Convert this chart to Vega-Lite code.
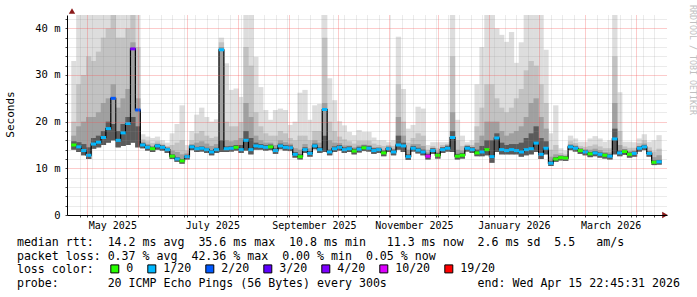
{
  "$schema": "https://vega.github.io/schema/vega-lite/v6.json",
  "width": 600,
  "height": 200,
  "autosize": "none",
  "padding": {"left": 67, "top": 15, "right": 30, "bottom": 82},
  "background": "white",
  "config": {"view": {"stroke": null}, "axis": {"labelOverlap": false, "labelFlush": false, "labelBound": false}},
  "title": {"text": "RRDTOOL / TOBI OETIKER", "orient": "right", "anchor": "start", "frame": "group", "offset": 2, "font": "DejaVu Sans Mono", "fontSize": 8.3, "fontWeight": "normal", "color": "#c0c0c0", "baseline": "alphabetic", "dx": -10},
  "datasets": {
    "smoke": [
      {"t":"2025-04-23T00:00","m":15.0,"lo":14.0,"h1":33,"h2":20,"h3":17,"h4":15.8,"c":"0"},
      {"t":"2025-04-26T00:00","m":14.6,"lo":13.5,"h1":43,"h2":28,"h3":19,"h4":15.6,"c":"1/20"},
      {"t":"2025-04-29T00:00","m":13.8,"lo":12.8,"h1":43,"h2":30,"h3":20,"h4":15.2,"c":"1/20"},
      {"t":"2025-05-02T00:00","m":12.8,"lo":12.0,"h1":43,"h2":34,"h3":21,"h4":14.5,"c":"1/20"},
      {"t":"2025-05-05T00:00","m":15.2,"lo":14.2,"h1":43,"h2":33,"h3":21,"h4":16.5,"c":"1/20"},
      {"t":"2025-05-08T00:00","m":15.6,"lo":14.5,"h1":43,"h2":35,"h3":22,"h4":17,"c":"1/20"},
      {"t":"2025-05-11T00:00","m":16.6,"lo":15.0,"h1":43,"h2":38,"h3":24,"h4":18,"c":"1/20"},
      {"t":"2025-05-14T00:00","m":18.5,"lo":15.5,"h1":43,"h2":40,"h3":25,"h4":20,"c":"1/20"},
      {"t":"2025-05-17T00:00","m":25.0,"lo":16.0,"h1":43,"h2":43,"h3":28,"h4":19.5,"c":"2/20"},
      {"t":"2025-05-20T00:00","m":16.0,"lo":14.5,"h1":43,"h2":38,"h3":23,"h4":18,"c":"1/20"},
      {"t":"2025-05-23T00:00","m":17.6,"lo":14.8,"h1":43,"h2":38,"h3":25,"h4":19.5,"c":"1/20"},
      {"t":"2025-05-26T00:00","m":19.6,"lo":15.0,"h1":43,"h2":40,"h3":27,"h4":21,"c":"1/20"},
      {"t":"2025-05-29T00:00","m":35.6,"lo":15.5,"h1":43,"h2":43,"h3":37,"h4":21,"c":"4/20"},
      {"t":"2025-06-01T00:00","m":22.5,"lo":14.5,"h1":43,"h2":36,"h3":25,"h4":19,"c":"2/20"},
      {"t":"2025-06-04T00:00","m":15.0,"lo":14.3,"h1":17.3,"h2":16.2,"h3":15.7,"h4":15.4,"c":"1/20"},
      {"t":"2025-06-07T00:00","m":14.5,"lo":13.8,"h1":16.8,"h2":15.8,"h3":15.2,"h4":14.9,"c":"1/20"},
      {"t":"2025-06-10T00:00","m":14.2,"lo":13.5,"h1":16.5,"h2":15.4,"h3":14.8,"h4":14.6,"c":"0"},
      {"t":"2025-06-13T00:00","m":14.8,"lo":14.0,"h1":16.8,"h2":15.8,"h3":15.3,"h4":15.2,"c":"1/20"},
      {"t":"2025-06-16T00:00","m":14.5,"lo":13.8,"h1":16.0,"h2":15.3,"h3":15.0,"h4":14.9,"c":"1/20"},
      {"t":"2025-06-19T00:00","m":14.0,"lo":13.3,"h1":15.5,"h2":14.8,"h3":14.5,"h4":14.4,"c":"1/20"},
      {"t":"2025-06-22T00:00","m":12.6,"lo":12.0,"h1":17.5,"h2":15.0,"h3":13.8,"h4":13.0,"c":"0"},
      {"t":"2025-06-25T00:00","m":12.0,"lo":11.4,"h1":19.5,"h2":15.5,"h3":13.5,"h4":12.4,"c":"1/20"},
      {"t":"2025-06-28T00:00","m":11.6,"lo":11.0,"h1":23.5,"h2":16.0,"h3":13.0,"h4":12.0,"c":"0"},
      {"t":"2025-07-01T00:00","m":12.5,"lo":11.9,"h1":15.0,"h2":13.8,"h3":13.2,"h4":12.9,"c":"1/20"},
      {"t":"2025-07-04T00:00","m":14.6,"lo":13.9,"h1":18.0,"h2":16.0,"h3":15.2,"h4":15.0,"c":"1/20"},
      {"t":"2025-07-07T00:00","m":14.2,"lo":13.5,"h1":21.5,"h2":17.5,"h3":15.5,"h4":14.6,"c":"1/20"},
      {"t":"2025-07-10T00:00","m":14.3,"lo":13.6,"h1":23.0,"h2":18.0,"h3":15.8,"h4":14.7,"c":"1/20"},
      {"t":"2025-07-13T00:00","m":14.0,"lo":13.3,"h1":21.0,"h2":17.0,"h3":15.3,"h4":14.4,"c":"1/20"},
      {"t":"2025-07-16T00:00","m":13.5,"lo":12.8,"h1":20.0,"h2":16.5,"h3":14.8,"h4":13.9,"c":"1/20"},
      {"t":"2025-07-19T00:00","m":14.0,"lo":13.3,"h1":20.5,"h2":16.8,"h3":15.2,"h4":14.4,"c":"1/20"},
      {"t":"2025-07-22T00:00","m":35.4,"lo":13.5,"h1":38.0,"h2":37.0,"h3":36.0,"h4":16.0,"c":"1/20"},
      {"t":"2025-07-25T00:00","m":14.2,"lo":13.5,"h1":32.5,"h2":20,"h3":16,"h4":14.7,"c":"1/20"},
      {"t":"2025-07-28T00:00","m":14.3,"lo":13.6,"h1":26.8,"h2":19,"h3":15.8,"h4":14.8,"c":"1/20"},
      {"t":"2025-07-31T00:00","m":14.5,"lo":13.8,"h1":27.1,"h2":19,"h3":16,"h4":15.0,"c":"0"},
      {"t":"2025-08-03T00:00","m":14.0,"lo":13.3,"h1":25.3,"h2":19.9,"h3":16.5,"h4":15.0,"c":"1/20"},
      {"t":"2025-08-06T00:00","m":16.0,"lo":13.8,"h1":43,"h2":36,"h3":24,"h4":18,"c":"1/20"},
      {"t":"2025-08-09T00:00","m":14.0,"lo":13.0,"h1":43,"h2":32,"h3":21,"h4":16.5,"c":"1/20"},
      {"t":"2025-08-12T00:00","m":14.8,"lo":14.0,"h1":33.9,"h2":22,"h3":17,"h4":15.5,"c":"1/20"},
      {"t":"2025-08-15T00:00","m":14.7,"lo":14.0,"h1":27.4,"h2":19,"h3":16,"h4":15.2,"c":"1/20"},
      {"t":"2025-08-18T00:00","m":14.5,"lo":13.8,"h1":22.5,"h2":17.5,"h3":15.5,"h4":15.0,"c":"1/20"},
      {"t":"2025-08-21T00:00","m":14.6,"lo":13.9,"h1":20.4,"h2":17,"h3":15.5,"h4":15.1,"c":"0"},
      {"t":"2025-08-24T00:00","m":13.8,"lo":13.1,"h1":22.5,"h2":17,"h3":15,"h4":14.3,"c":"1/20"},
      {"t":"2025-08-27T00:00","m":14.8,"lo":14.1,"h1":22.8,"h2":18,"h3":16,"h4":15.3,"c":"1/20"},
      {"t":"2025-08-30T00:00","m":14.5,"lo":13.8,"h1":22.5,"h2":17.5,"h3":15.6,"h4":15.0,"c":"1/20"},
      {"t":"2025-09-02T00:00","m":14.4,"lo":13.7,"h1":19.3,"h2":16.5,"h3":15.3,"h4":14.9,"c":"1/20"},
      {"t":"2025-09-05T00:00","m":13.0,"lo":12.3,"h1":20.0,"h2":16,"h3":14.3,"h4":13.5,"c":"1/20"},
      {"t":"2025-09-08T00:00","m":12.5,"lo":11.9,"h1":26.2,"h2":17,"h3":14,"h4":13.0,"c":"0"},
      {"t":"2025-09-11T00:00","m":14.0,"lo":13.3,"h1":26.8,"h2":17,"h3":15.2,"h4":14.5,"c":"1/20"},
      {"t":"2025-09-14T00:00","m":13.2,"lo":12.5,"h1":20.4,"h2":16,"h3":14.3,"h4":13.7,"c":"1/20"},
      {"t":"2025-09-17T00:00","m":14.8,"lo":14.1,"h1":23.5,"h2":18,"h3":16,"h4":15.3,"c":"1/20"},
      {"t":"2025-09-20T00:00","m":14.0,"lo":13.3,"h1":23.8,"h2":18,"h3":15.5,"h4":14.5,"c":"1/20"},
      {"t":"2025-09-23T00:00","m":22.6,"lo":13.5,"h1":43,"h2":38,"h3":24,"h4":17,"c":"1/20"},
      {"t":"2025-09-26T00:00","m":13.5,"lo":12.8,"h1":29.3,"h2":20,"h3":16,"h4":14.0,"c":"1/20"},
      {"t":"2025-09-29T00:00","m":14.2,"lo":13.5,"h1":24.6,"h2":18,"h3":15.5,"h4":14.7,"c":"1/20"},
      {"t":"2025-10-02T00:00","m":14.5,"lo":13.8,"h1":20.1,"h2":16.8,"h3":15.4,"h4":15.0,"c":"1/20"},
      {"t":"2025-10-05T00:00","m":14.0,"lo":13.3,"h1":19.2,"h2":16.2,"h3":14.9,"h4":14.5,"c":"1/20"},
      {"t":"2025-10-08T00:00","m":14.2,"lo":13.5,"h1":17.8,"h2":15.8,"h3":14.9,"h4":14.7,"c":"1/20"},
      {"t":"2025-10-11T00:00","m":13.7,"lo":13.0,"h1":17.1,"h2":15.3,"h3":14.5,"h4":14.2,"c":"0"},
      {"t":"2025-10-14T00:00","m":14.1,"lo":13.4,"h1":18.2,"h2":15.9,"h3":14.9,"h4":14.6,"c":"1/20"},
      {"t":"2025-10-17T00:00","m":14.4,"lo":13.7,"h1":17.8,"h2":15.9,"h3":15.1,"h4":14.9,"c":"0"},
      {"t":"2025-10-20T00:00","m":14.3,"lo":13.6,"h1":17.8,"h2":15.9,"h3":15.0,"h4":14.8,"c":"1/20"},
      {"t":"2025-10-23T00:00","m":13.8,"lo":13.1,"h1":16.6,"h2":15.3,"h3":14.5,"h4":14.3,"c":"1/20"},
      {"t":"2025-10-26T00:00","m":14.0,"lo":13.3,"h1":16.0,"h2":15.0,"h3":14.5,"h4":14.4,"c":"1/20"},
      {"t":"2025-10-29T00:00","m":13.3,"lo":12.6,"h1":16.0,"h2":14.8,"h3":14.0,"h4":13.8,"c":"0"},
      {"t":"2025-11-01T00:00","m":14.2,"lo":13.5,"h1":15.6,"h2":15.0,"h3":14.7,"h4":14.6,"c":"1/20"},
      {"t":"2025-11-04T00:00","m":13.5,"lo":12.8,"h1":16.0,"h2":14.8,"h3":14.2,"h4":14.0,"c":"1/20"},
      {"t":"2025-11-07T00:00","m":15.0,"lo":14.0,"h1":38.2,"h2":28,"h3":21,"h4":17,"c":"1/20"},
      {"t":"2025-11-10T00:00","m":14.8,"lo":13.5,"h1":27,"h2":20,"h3":17,"h4":15.5,"c":"1/20"},
      {"t":"2025-11-13T00:00","m":12.5,"lo":11.8,"h1":18.5,"h2":15.5,"h3":14,"h4":13.0,"c":"1/20"},
      {"t":"2025-11-16T00:00","m":14.3,"lo":13.6,"h1":19.3,"h2":16.5,"h3":15.2,"h4":14.8,"c":"1/20"},
      {"t":"2025-11-19T00:00","m":13.9,"lo":13.2,"h1":23.2,"h2":17.5,"h3":15.2,"h4":14.4,"c":"1/20"},
      {"t":"2025-11-22T00:00","m":13.5,"lo":12.8,"h1":22.8,"h2":17,"h3":14.8,"h4":14.0,"c":"1/20"},
      {"t":"2025-11-25T00:00","m":12.6,"lo":11.9,"h1":15.0,"h2":14.0,"h3":13.4,"h4":13.1,"c":"10/20"},
      {"t":"2025-11-28T00:00","m":13.8,"lo":13.1,"h1":15.6,"h2":14.8,"h3":14.4,"h4":14.3,"c":"1/20"},
      {"t":"2025-12-01T00:00","m":12.8,"lo":12.1,"h1":15.6,"h2":14.3,"h3":13.6,"h4":13.3,"c":"0"},
      {"t":"2025-12-04T00:00","m":14.0,"lo":13.3,"h1":15.6,"h2":15.0,"h3":14.6,"h4":14.5,"c":"1/20"},
      {"t":"2025-12-07T00:00","m":14.3,"lo":13.6,"h1":15.6,"h2":15.2,"h3":15.0,"h4":14.8,"c":"1/20"},
      {"t":"2025-12-10T00:00","m":16.6,"lo":13.5,"h1":43,"h2":34,"h3":22,"h4":18,"c":"1/20"},
      {"t":"2025-12-13T00:00","m":12.6,"lo":11.9,"h1":20.4,"h2":16,"h3":14,"h4":13.1,"c":"0"},
      {"t":"2025-12-16T00:00","m":12.8,"lo":12.1,"h1":17.0,"h2":14.8,"h3":13.8,"h4":13.3,"c":"0"},
      {"t":"2025-12-19T00:00","m":14.3,"lo":13.6,"h1":15.6,"h2":15.1,"h3":14.9,"h4":14.8,"c":"1/20"},
      {"t":"2025-12-22T00:00","m":14.0,"lo":13.3,"h1":16.0,"h2":15.0,"h3":14.6,"h4":14.5,"c":"1/20"},
      {"t":"2025-12-25T00:00","m":13.3,"lo":12.6,"h1":28,"h2":19,"h3":15.5,"h4":14.0,"c":"0"},
      {"t":"2025-12-28T00:00","m":13.5,"lo":12.6,"h1":36,"h2":23,"h3":17,"h4":14.8,"c":"1/20"},
      {"t":"2025-12-31T00:00","m":14.0,"lo":12.8,"h1":43,"h2":28,"h3":20,"h4":16,"c":"0"},
      {"t":"2026-01-03T00:00","m":12.5,"lo":11.2,"h1":43,"h2":28,"h3":20,"h4":16,"c":"1/20"},
      {"t":"2026-01-06T00:00","m":16.5,"lo":13.5,"h1":40,"h2":25,"h3":20,"h4":17.5,"c":"1/20"},
      {"t":"2026-01-09T00:00","m":14.0,"lo":13.0,"h1":38.6,"h2":23,"h3":18,"h4":15.5,"c":"1/20"},
      {"t":"2026-01-12T00:00","m":13.8,"lo":13.0,"h1":37.1,"h2":22,"h3":17,"h4":15,"c":"1/20"},
      {"t":"2026-01-15T00:00","m":14.0,"lo":13.0,"h1":39.2,"h2":23,"h3":17.5,"h4":15.2,"c":"1/20"},
      {"t":"2026-01-18T00:00","m":13.8,"lo":13.0,"h1":32.6,"h2":25,"h3":18,"h4":15.2,"c":"1/20"},
      {"t":"2026-01-21T00:00","m":13.5,"lo":12.5,"h1":37,"h2":27,"h3":19,"h4":15.5,"c":"1/20"},
      {"t":"2026-01-24T00:00","m":14.0,"lo":12.8,"h1":43,"h2":31,"h3":21,"h4":16.5,"c":"1/20"},
      {"t":"2026-01-27T00:00","m":14.2,"lo":13.0,"h1":43,"h2":33,"h3":24,"h4":17.5,"c":"1/20"},
      {"t":"2026-01-30T00:00","m":15.4,"lo":13.5,"h1":43,"h2":32,"h3":25,"h4":19,"c":"1/20"},
      {"t":"2026-02-02T00:00","m":13.0,"lo":12.0,"h1":43,"h2":28,"h3":21,"h4":16.5,"c":"1/20"},
      {"t":"2026-02-05T00:00","m":14.3,"lo":13.0,"h1":35.4,"h2":24,"h3":18.5,"h4":15.8,"c":"1/20"},
      {"t":"2026-02-08T00:00","m":11.1,"lo":10.5,"h1":17.5,"h2":14,"h3":12.5,"h4":11.6,"c":"1/20"},
      {"t":"2026-02-11T00:00","m":12.0,"lo":11.4,"h1":23.5,"h2":15,"h3":13,"h4":12.4,"c":"0"},
      {"t":"2026-02-14T00:00","m":12.3,"lo":11.7,"h1":14.3,"h2":13.3,"h3":12.8,"h4":12.7,"c":"0"},
      {"t":"2026-02-17T00:00","m":12.2,"lo":11.6,"h1":13.8,"h2":13.0,"h3":12.7,"h4":12.6,"c":"0"},
      {"t":"2026-02-20T00:00","m":14.6,"lo":13.9,"h1":17.0,"h2":15.8,"h3":15.2,"h4":15.0,"c":"1/20"},
      {"t":"2026-02-23T00:00","m":14.3,"lo":13.6,"h1":16.4,"h2":15.4,"h3":14.9,"h4":14.7,"c":"1/20"},
      {"t":"2026-02-26T00:00","m":13.8,"lo":13.1,"h1":15.7,"h2":14.8,"h3":14.3,"h4":14.2,"c":"0"},
      {"t":"2026-03-01T00:00","m":13.5,"lo":12.8,"h1":15.7,"h2":14.6,"h3":14.1,"h4":13.9,"c":"1/20"},
      {"t":"2026-03-04T00:00","m":13.1,"lo":12.4,"h1":16.4,"h2":14.8,"h3":14.0,"h4":13.5,"c":"0"},
      {"t":"2026-03-07T00:00","m":13.3,"lo":12.6,"h1":16.9,"h2":15.1,"h3":14.2,"h4":13.7,"c":"1/20"},
      {"t":"2026-03-10T00:00","m":13.0,"lo":12.3,"h1":16.4,"h2":14.7,"h3":13.9,"h4":13.4,"c":"1/20"},
      {"t":"2026-03-13T00:00","m":12.8,"lo":12.1,"h1":15.7,"h2":14.3,"h3":13.5,"h4":13.2,"c":"0"},
      {"t":"2026-03-16T00:00","m":12.6,"lo":11.9,"h1":16.0,"h2":14.3,"h3":13.4,"h4":13.0,"c":"1/20"},
      {"t":"2026-03-19T00:00","m":16.3,"lo":13.0,"h1":43,"h2":34,"h3":24,"h4":18.5,"c":"1/20"},
      {"t":"2026-03-22T00:00","m":13.3,"lo":12.6,"h1":26.3,"h2":18,"h3":15,"h4":13.8,"c":"1/20"},
      {"t":"2026-03-25T00:00","m":13.6,"lo":12.9,"h1":15.7,"h2":14.7,"h3":14.1,"h4":14.0,"c":"0"},
      {"t":"2026-03-28T00:00","m":13.0,"lo":12.3,"h1":15.7,"h2":14.4,"h3":13.7,"h4":13.4,"c":"0"},
      {"t":"2026-03-31T00:00","m":13.2,"lo":12.5,"h1":15.6,"h2":14.4,"h3":13.8,"h4":13.6,"c":"1/20"},
      {"t":"2026-04-03T00:00","m":14.3,"lo":13.6,"h1":16.4,"h2":15.4,"h3":14.8,"h4":14.7,"c":"1/20"},
      {"t":"2026-04-06T00:00","m":14.6,"lo":13.9,"h1":17.3,"h2":16.0,"h3":15.3,"h4":15.0,"c":"1/20"},
      {"t":"2026-04-09T00:00","m":13.2,"lo":12.5,"h1":15.7,"h2":14.5,"h3":13.8,"h4":13.6,"c":"1/20"},
      {"t":"2026-04-12T00:00","m":11.3,"lo":10.7,"h1":16.0,"h2":13.6,"h3":12.4,"h4":11.7,"c":"0"},
      {"t":"2026-04-15T00:00","m":11.4,"lo":10.8,"h1":17.1,"h2":14.2,"h3":12.8,"h4":11.8,"c":"1/20"}
    ],
    "arrows": [
      {"t":"2026-04-18T14:00","m":0,"s":"triangle-right"},
      {"t":"2025-04-21T20:00","m":43.7,"s":"triangle-up"}
    ]
  },
  "data": {"name": "smoke"},
  "encoding": {
    "x": {"field": "t", "type": "temporal",
      "scale": {"domain": [{"year":2025,"month":4,"date":21,"hours":20},{"year":2026,"month":4,"date":16,"hours":19}]}}
  },
  "layer": [
    {"mark": {"type": "bar", "width": 5.3, "color": "#dddddd", "clip": true},
     "encoding": {
       "x": {"field": "t", "type": "temporal",
         "scale": {"domain": [{"year":2025,"month":4,"date":21,"hours":20},{"year":2026,"month":4,"date":16,"hours":19}]},
         "axis": {
           "values": [
             {"year":2025,"month":4,"date":27},{"year":2025,"month":5,"date":1},{"year":2025,"month":5,"date":4},{"year":2025,"month":5,"date":11},{"year":2025,"month":5,"date":18},{"year":2025,"month":5,"date":25},
             {"year":2025,"month":6,"date":1},{"year":2025,"month":6,"date":8},{"year":2025,"month":6,"date":15},{"year":2025,"month":6,"date":22},{"year":2025,"month":6,"date":29},
             {"year":2025,"month":7,"date":1},{"year":2025,"month":7,"date":6},{"year":2025,"month":7,"date":13},{"year":2025,"month":7,"date":20},{"year":2025,"month":7,"date":27},
             {"year":2025,"month":8,"date":1},{"year":2025,"month":8,"date":3},{"year":2025,"month":8,"date":10},{"year":2025,"month":8,"date":17},{"year":2025,"month":8,"date":24},{"year":2025,"month":8,"date":31},
             {"year":2025,"month":9,"date":1},{"year":2025,"month":9,"date":7},{"year":2025,"month":9,"date":14},{"year":2025,"month":9,"date":21},{"year":2025,"month":9,"date":28},
             {"year":2025,"month":10,"date":1},{"year":2025,"month":10,"date":5},{"year":2025,"month":10,"date":12},{"year":2025,"month":10,"date":19},{"year":2025,"month":10,"date":26},
             {"year":2025,"month":11,"date":1},{"year":2025,"month":11,"date":2},{"year":2025,"month":11,"date":9},{"year":2025,"month":11,"date":16},{"year":2025,"month":11,"date":23},{"year":2025,"month":11,"date":30},
             {"year":2025,"month":12,"date":1},{"year":2025,"month":12,"date":7},{"year":2025,"month":12,"date":14},{"year":2025,"month":12,"date":21},{"year":2025,"month":12,"date":28},
             {"year":2026,"month":1,"date":1},{"year":2026,"month":1,"date":4},{"year":2026,"month":1,"date":11},{"year":2026,"month":1,"date":18},{"year":2026,"month":1,"date":25},
             {"year":2026,"month":2,"date":1},{"year":2026,"month":2,"date":8},{"year":2026,"month":2,"date":15},{"year":2026,"month":2,"date":22},
             {"year":2026,"month":3,"date":1},{"year":2026,"month":3,"date":8},{"year":2026,"month":3,"date":15},{"year":2026,"month":3,"date":22},{"year":2026,"month":3,"date":29},
             {"year":2026,"month":4,"date":1},{"year":2026,"month":4,"date":5},{"year":2026,"month":4,"date":12}
           ],
           "tickCount": 1000,
           "zindex": 1,
           "grid": true,
           "gridColor": {"condition": {"test": "date(datum.value) == 1", "value": "#f55050"}, "value": "#8c8c8c"},
           "gridOpacity": {"condition": {"test": "date(datum.value) == 1", "value": 0.6}, "value": 0.35},
           "gridDash": [1, 1],
           "domainColor": "#000000",
           "ticks": true,
           "tickSize": 2,
           "tickColor": "#444444",
           "labelExpr": "date(datum.value) == 1 && month(datum.value) % 2 == 0 ? timeFormat(datum.value, '%B %Y') : ''",
           "labelOffset": 25.3,
           "labelOverlap": false,
           "labelFlush": false,
           "labelBound": false,
           "labelFont": "DejaVu Sans Mono",
           "labelFontSize": 10,
           "labelColor": "#000000",
           "labelBaseline": "alphabetic",
           "labelPadding": 11.3,
           "title": ["median rtt:\u00a0\u00a014.2\u00a0ms\u00a0avg\u00a0\u00a035.6\u00a0ms\u00a0max\u00a0\u00a010.8\u00a0ms\u00a0min\u00a0\u00a0\u00a011.3\u00a0ms\u00a0now\u00a0\u00a02.6\u00a0ms\u00a0sd\u00a0\u00a05.5\u00a0\u00a0\u00a0am/s",
                     "packet\u00a0loss:\u00a00.37\u00a0%\u00a0avg\u00a0\u00a042.36\u00a0%\u00a0max\u00a0\u00a00.00\u00a0%\u00a0min\u00a0\u00a00.05\u00a0%\u00a0now",
                     "loss\u00a0color:",
                     "probe:\u00a0\u00a0\u00a0\u00a0\u00a0\u00a0\u00a020\u00a0ICMP\u00a0Echo\u00a0Pings\u00a0(56\u00a0Bytes)\u00a0every\u00a0300s\u00a0\u00a0\u00a0\u00a0\u00a0\u00a0\u00a0\u00a0\u00a0\u00a0\u00a0\u00a0\u00a0end:\u00a0Wed\u00a0Apr\u00a015\u00a022:45:31\u00a02026"],
           "titleX": -50.6,
           "titleY": 30.5,
           "titleAnchor": "start",
           "titleAlign": "left",
           "titleBaseline": "alphabetic",
           "titleLineHeight": 13.5,
           "titleFont": "DejaVu Sans Mono",
           "titleFontSize": 11.6,
           "titleFontWeight": "normal",
           "titleColor": "#000000"
         }},
       "y": {"field": "lo", "type": "quantitative",
         "scale": {"domain": [0, 42.85], "nice": false, "zero": true},
         "axis": {
           "values": [0,2,4,6,8,10,12,14,16,18,20,22,24,26,28,30,32,34,36,38,40,42],
           "tickCount": 1000,
           "zindex": 1,
           "grid": true,
           "gridColor": {"condition": {"test": "datum.value % 10 == 0", "value": "#f55050"}, "value": "#8c8c8c"},
           "gridOpacity": {"condition": {"test": "datum.value % 10 == 0", "value": 0.6}, "value": 0.35},
           "gridDash": [1, 1],
           "domainColor": "#000000",
           "tickSize": 2,
           "tickColor": "#444444",
           "labelExpr": "datum.value % 10 == 0 ? (datum.value == 0 ? '0\u00a0\u00a0' : datum.value + '\u00a0m') : ''",
           "labelOverlap": false,
           "labelFlush": false,
           "labelBound": false,
           "labelFont": "DejaVu Sans Mono",
           "labelFontSize": 10.5,
           "labelColor": "#000000",
           "labelPadding": 5,
           "labelBaseline": "middle",
           "title": "Seconds",
           "titleX": -56.3,
           "titleY": 99,
           "titleAngle": 270,
           "titleAlign": "center",
           "titleBaseline": "middle",
           "titleFont": "DejaVu Sans Mono",
           "titleFontSize": 11,
           "titleFontWeight": "normal",
           "titleColor": "#000000"
         }},
       "y2": {"field": "h1"}
     }},
    {"mark": {"type": "bar", "width": 5.3, "color": "#c2c2c2", "clip": true},
     "encoding": {"y": {"field": "lo", "type": "quantitative"}, "y2": {"field": "h2"}}},
    {"mark": {"type": "bar", "width": 5.3, "color": "#a0a0a0", "clip": true},
     "encoding": {"y": {"field": "lo", "type": "quantitative"}, "y2": {"field": "h3"}}},
    {"mark": {"type": "bar", "width": 5.3, "color": "#5a5a5a", "clip": true},
     "encoding": {"y": {"field": "lo", "type": "quantitative"}, "y2": {"field": "h4"}}},
    {"mark": {"type": "line", "interpolate": "step", "color": "#000000", "strokeWidth": 1.2, "clip": true},
     "encoding": {"y": {"field": "m", "type": "quantitative"}}},
    {"mark": {"type": "tick", "orient": "horizontal", "size": 5.3, "thickness": 3, "opacity": 1, "clip": true},
     "encoding": {
       "y": {"field": "m", "type": "quantitative"},
       "color": {"field": "c", "type": "nominal",
         "scale": {"domain": ["0","1/20","2/20","3/20","4/20","10/20","19/20"],
                   "range": ["#26ff00","#00b8ff","#0059ff","#5e00ff","#7e00ff","#dd00ff","#ff0000"]},
         "legend": {
           "orient": "none", "legendX": 42, "legendY": 248,
           "direction": "horizontal",
           "title": null,
           "labelFont": "DejaVu Sans Mono", "labelFontSize": 11.6, "labelColor": "#000000", "labelOffset": 5.6,
           "symbolType": "square", "symbolSize": 64, "symbolStrokeColor": "#000000", "symbolStrokeWidth": 1, "symbolOpacity": 1,
           "columnPadding": 11, "padding": 0
         }}
     }},
    {"data": {"name": "arrows"},
     "mark": {"type": "point", "filled": true, "clip": false, "size": 40, "color": "#8b1a1a", "opacity": 1},
     "encoding": {
       "y": {"field": "m", "type": "quantitative"},
       "shape": {"field": "s", "type": "nominal", "scale": null}
     }}
  ]
}
